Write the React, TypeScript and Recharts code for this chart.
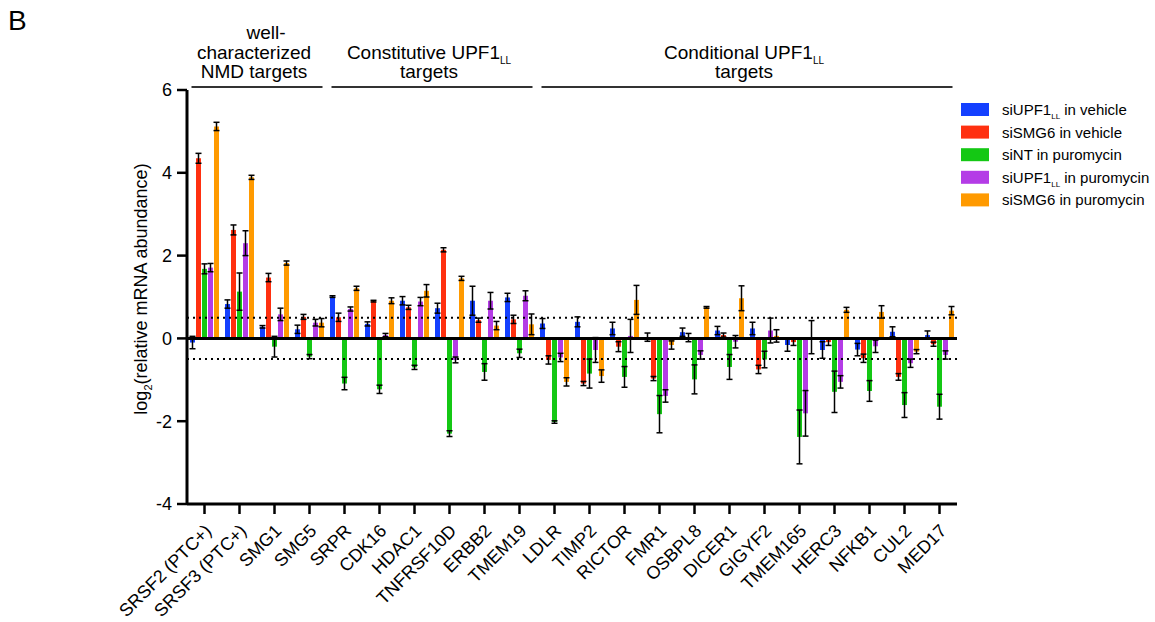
import { Bar, BarChart, ErrorBar, ReferenceLine, XAxis, YAxis } from "recharts";

const genes = [
  "SRSF2 (PTC+)", "SRSF3 (PTC+)", "SMG1", "SMG5", "SRPR", "CDK16", "HDAC1",
  "TNFRSF10D", "ERBB2", "TMEM19", "LDLR", "TIMP2", "RICTOR", "FMR1", "OSBPL8",
  "DICER1", "GIGYF2", "TMEM165", "HERC3", "NFKB1", "CUL2", "MED17",
];

const upf1Vehicle = [-0.1, 0.83, 0.28, 0.22, 1.01, 0.35, 0.91, 0.73, 0.91, 0.99, 0.36, 0.4, 0.24, 0.03, 0.15, 0.19, 0.24, -0.16, -0.28, -0.27, 0.16, 0.08];
const smg6Vehicle = [4.35, 2.62, 1.47, 0.52, 0.51, 0.9, 0.75, 2.14, 0.44, 0.46, -0.52, -1.09, -0.2, -0.97, 0.02, 0.08, -0.75, -0.09, -0.09, -0.48, -0.93, -0.14];
const ntPuro = [1.68, 1.13, -0.2, -0.44, -1.09, -1.23, -0.7, -2.3, -0.81, -0.36, -2.02, -0.85, -0.93, -1.83, -0.99, -0.69, -0.51, -2.38, -1.29, -1.27, -1.61, -1.65];
const upf1Puro = [1.71, 2.3, 0.58, 0.38, 0.71, 0.08, 0.89, -0.52, 0.91, 1.03, -0.46, -0.28, 0.06, -1.39, -0.4, -0.08, 0.19, -1.81, -1.05, -0.19, -0.6, -0.4];
const smg6Puro = [5.12, 3.89, 1.82, 0.38, 1.21, 0.91, 1.15, 1.45, 0.31, 0.34, -1.05, -0.91, 0.93, -0.16, 0.75, 0.97, 0.06, 0.03, 0.69, 0.64, -0.32, 0.67];

const upf1VehicleErr = [0.15, 0.1, 0.03, 0.1, 0.02, 0.05, 0.1, 0.12, 0.35, 0.1, 0.12, 0.12, 0.15, 0.1, 0.1, 0.1, 0.15, 0.15, 0.2, 0.15, 0.12, 0.1];
const smg6VehicleErr = [0.12, 0.12, 0.1, 0.06, 0.1, 0.02, 0.05, 0.05, 0.05, 0.1, 0.1, 0.05, 0.12, 0.05, 0.1, 0.05, 0.1, 0.08, 0.08, 0.1, 0.08, 0.05];
const ntPuroErr = [0.12, 0.45, 0.25, 0.05, 0.15, 0.1, 0.05, 0.07, 0.2, 0.1, 0.03, 0.35, 0.25, 0.45, 0.35, 0.3, 0.2, 0.65, 0.5, 0.25, 0.3, 0.3];
const upf1PuroErr = [0.1, 0.3, 0.15, 0.08, 0.05, 0.04, 0.1, 0.07, 0.2, 0.12, 0.1, 0.3, 0.4, 0.15, 0.1, 0.15, 0.3, 0.55, 0.15, 0.15, 0.1, 0.1];
const smg6PuroErr = [0.1, 0.05, 0.05, 0.1, 0.05, 0.07, 0.15, 0.05, 0.1, 0.25, 0.1, 0.15, 0.35, 0.1, 0.02, 0.3, 0.15, 0.4, 0.06, 0.15, 0.05, 0.1];

const yTicks = [-4, -2, 0, 2, 4, 6];

const groups = [
  { lines: ["well-", "characterized", "NMD targets"], sub: [false, false, false], from: 0, to: 3 },
  { lines: ["Constitutive UPF1", "targets"], sub: [true, false], from: 4, to: 9 },
  { lines: ["Conditional UPF1", "targets"], sub: [true, false], from: 10, to: 21 },
];

const series = [
  { key: "upf1Vehicle", name: "siUPF1", sub: "LL", rest: " in vehicle", color: "#1440ff" },
  { key: "smg6Vehicle", name: "siSMG6 in vehicle", sub: "", rest: "", color: "#ff3010" },
  { key: "ntPuro", name: "siNT in puromycin", sub: "", rest: "", color: "#14c814" },
  { key: "upf1Puro", name: "siUPF1", sub: "LL", rest: " in puromycin", color: "#b43ce6" },
  { key: "smg6Puro", name: "siSMG6 in puromycin", sub: "", rest: "", color: "#ff9a00" },
];

const data = genes.map((gene, i) => ({
  gene,
  upf1Vehicle: upf1Vehicle[i],
  smg6Vehicle: smg6Vehicle[i],
  ntPuro: ntPuro[i],
  upf1Puro: upf1Puro[i],
  smg6Puro: smg6Puro[i],
  upf1VehicleErr: upf1VehicleErr[i],
  smg6VehicleErr: smg6VehicleErr[i],
  ntPuroErr: ntPuroErr[i],
  upf1PuroErr: upf1PuroErr[i],
  smg6PuroErr: smg6PuroErr[i],
}));

const FONT = '"Liberation Sans", Arial, Helvetica, sans-serif';
const W = 1155;
const H = 622;
const PLOT_LEFT = 187;
const PLOT_RIGHT = 957;
const PLOT_TOP = 90;
const PLOT_BOTTOM = 504;
const BAND = (PLOT_RIGHT - PLOT_LEFT) / genes.length;

const GeneTick = ({ x, y, payload }: any) => {
  const tx = x + 8;
  const ty = y + 16;
  return (
    <text
      x={tx}
      y={ty}
      transform={`rotate(-45 ${tx} ${ty})`}
      textAnchor="end"
      fontSize={18}
      fontFamily={FONT}
      fill="#000"
    >
      {payload.value}
    </text>
  );
};

function Annotations() {
  return (
    <svg
      width={W}
      height={H}
      style={{ position: "absolute", left: 0, top: 0, pointerEvents: "none" }}
      fontFamily={FONT}
    >
      <text x={8} y={30} fontSize={28} fill="#000">B</text>

      {groups.map((g, gi) => {
        const x1 = PLOT_LEFT + g.from * BAND + 4.5;
        const x2 = PLOT_LEFT + (g.to + 1) * BAND - 4.5;
        const cx = (x1 + x2) / 2 - 3;
        const lastY = 78;
        return (
          <g key={gi}>
            <line x1={x1} x2={x2} y1={87} y2={87} stroke="#333" strokeWidth={2} />
            {g.lines.map((ln, li) => (
              <text
                key={li}
                x={cx + (ln === "well-" ? 12 : 0)}
                y={lastY - (g.lines.length - 1 - li) * 19.5}
                fontSize={19}
                textAnchor="middle"
                fill="#000"
              >
                {ln}
                {g.sub[li] ? (
                  <tspan fontSize={10} dy={5}>LL</tspan>
                ) : null}
              </text>
            ))}
          </g>
        );
      })}

      <text
        x={147}
        y={289}
        transform="rotate(-90 147 289)"
        textAnchor="middle"
        fontSize={18}
        fill="#000"
      >
        log<tspan fontSize={11} dy={5}>2</tspan>
        <tspan dy={-5}>(relative mRNA abundance)</tspan>
      </text>

      {series.map((s, i) => {
        const cy = 109.5 + i * 22.6;
        return (
          <g key={s.key}>
            <rect x={961} y={cy - 6.5} width={28} height={13} fill={s.color} />
            <text x={1002} y={cy + 5.5} fontSize={15} fill="#000">
              {s.name}
              {s.sub ? <tspan fontSize={8} dy={4}>{s.sub}</tspan> : null}
              {s.rest ? <tspan dy={s.sub ? -4 : 0}>{s.rest}</tspan> : null}
            </text>
          </g>
        );
      })}
    </svg>
  );
}

export default function App() {
  return (
    <div style={{ position: "absolute", left: 0, top: 0, width: W, height: H, background: "#fff" }}>
      <BarChart
        width={W}
        height={H}
        data={data}
        margin={{ top: PLOT_TOP, right: W - PLOT_RIGHT, bottom: 0, left: 0 }}
        barCategoryGap={3}
        barGap={1}
      >
        <XAxis
          dataKey="gene"
          interval={0}
          tick={<GeneTick />}
          tickSize={10}
          axisLine={{ stroke: "#000", strokeWidth: 3 }}
          tickLine={{ stroke: "#000", strokeWidth: 2.5 }}
          height={H - PLOT_BOTTOM}
        />
        <YAxis
          domain={[-4, 6]}
          ticks={yTicks}
          interval={0}
          width={PLOT_LEFT}
          tickSize={10}
          tickMargin={5}
          tick={{ fontSize: 18, fill: "#000", fontFamily: FONT }}
          axisLine={{ stroke: "#000", strokeWidth: 3 }}
          tickLine={{ stroke: "#000", strokeWidth: 2.5 }}
        />
        {series.map((s) => (
          <Bar key={s.key} dataKey={s.key} fill={s.color} isAnimationActive={false}>
            <ErrorBar
              dataKey={`${s.key}Err`}
              width={3}
              strokeWidth={1.5}
              stroke="#000"
              direction="y"
              isAnimationActive={false}
            />
          </Bar>
        ))}
        <ReferenceLine y={0.5} stroke="#000" strokeWidth={2} strokeDasharray="2 4" />
        <ReferenceLine y={-0.5} stroke="#000" strokeWidth={2} strokeDasharray="2 4" />
        <ReferenceLine y={0} stroke="#000" strokeWidth={3} />
      </BarChart>
      <Annotations />
    </div>
  );
}
